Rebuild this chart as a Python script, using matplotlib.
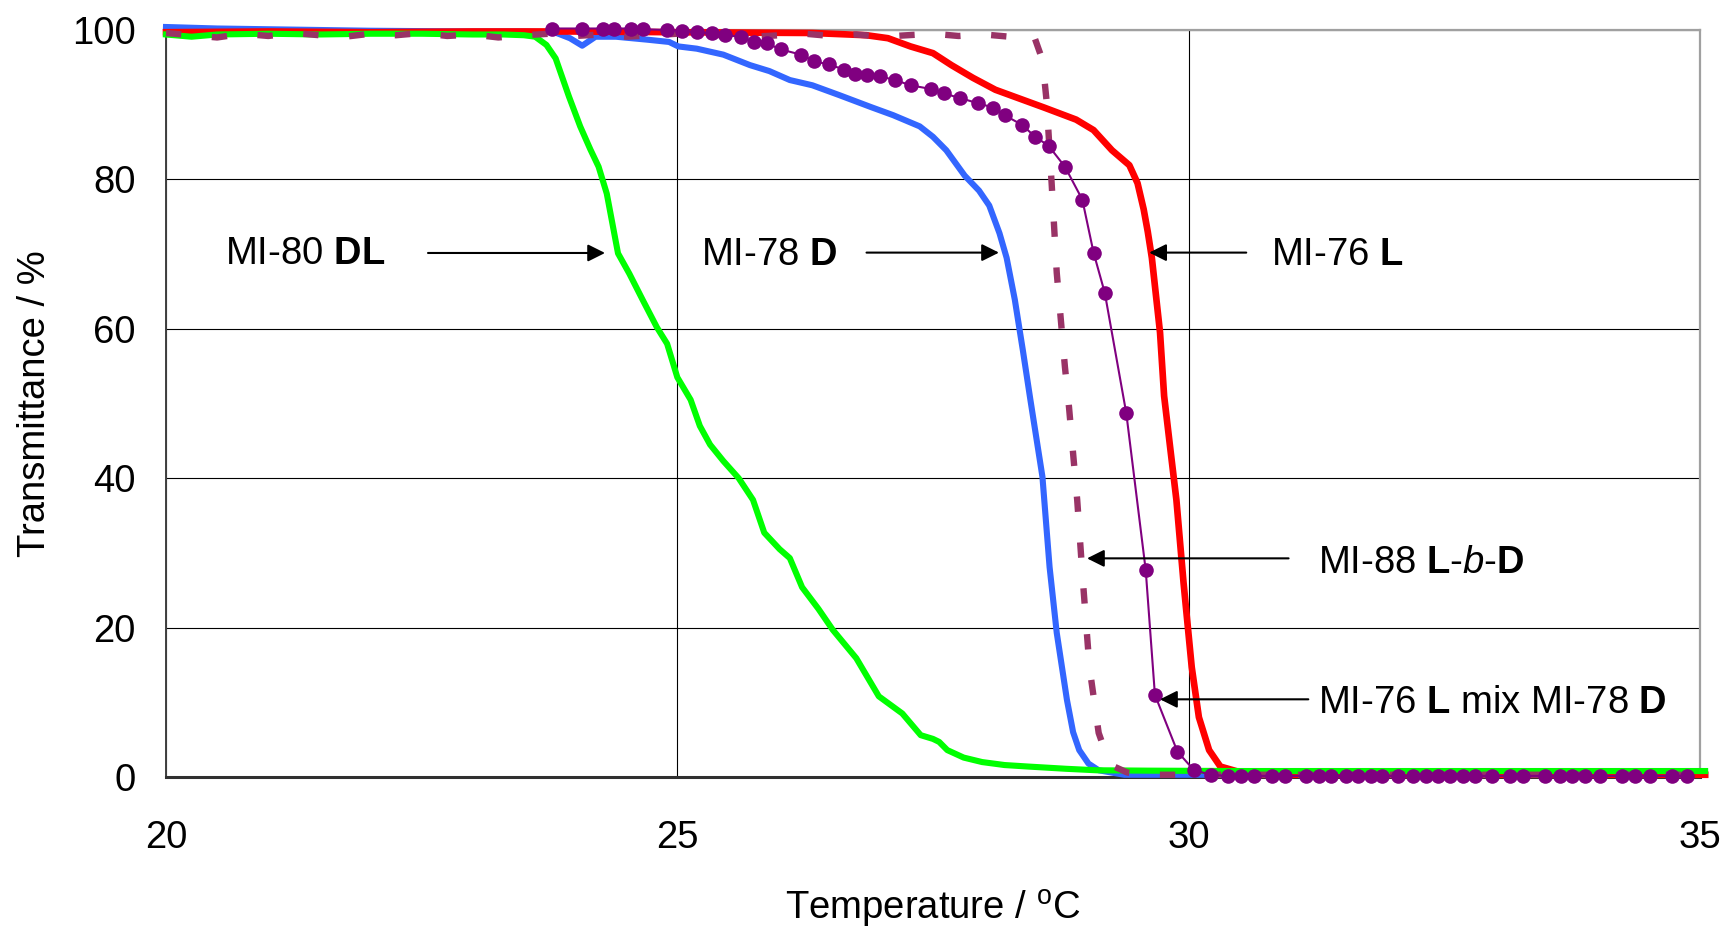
import matplotlib
matplotlib.use("Agg")
import matplotlib.pyplot as plt

plt.rcParams['font.family'] = ['Liberation Sans', 'DejaVu Sans']
plt.rcParams['mathtext.fontset'] = 'custom'
plt.rcParams['mathtext.rm'] = 'Liberation Sans'
plt.rcParams['mathtext.bf'] = 'Liberation Sans:bold'
plt.rcParams['mathtext.it'] = 'Liberation Sans:italic'

# ---- data: temperature (deg C) vs transmittance (%) ----
mi80_T = [20.0, 20.25, 20.5, 21.0, 21.5, 22.0, 22.5, 23.0, 23.3, 23.5, 23.61, 23.72,
          23.81, 23.94, 24.05, 24.15, 24.23, 24.31, 24.42, 24.53, 24.66, 24.8, 24.9,
          25.0, 25.13, 25.22, 25.32, 25.45, 25.6, 25.74, 25.85, 26.0, 26.1, 26.22,
          26.38, 26.52, 26.75, 26.97, 27.2, 27.38, 27.5, 27.56, 27.64, 27.8, 27.98,
          28.2, 28.43, 28.8, 29.1, 29.6, 30.5, 32.0, 33.5, 35.05]
mi80_Y = [99.4, 99.1, 99.4, 99.5, 99.4, 99.5, 99.5, 99.4, 99.4, 99.3, 99.1, 98.0,
          96.2, 91.1, 87.1, 84.0, 81.7, 78.1, 70.1, 67.4, 63.9, 60.2, 58.0,
          53.5, 50.5, 47.0, 44.5, 42.3, 40.0, 37.1, 32.7, 30.5, 29.3, 25.4,
          22.5, 19.7, 15.9, 10.8, 8.5, 5.6, 5.1, 4.7, 3.6, 2.6, 2.0,
          1.6, 1.4, 1.1, 0.9, 0.85, 0.8, 0.8, 0.8, 0.8]

mi78_T = [20.0, 20.5, 21.0, 22.0, 23.0, 23.5, 23.8, 23.95, 24.07, 24.2, 24.4, 24.71,
          24.92, 25.01, 25.19, 25.45, 25.71, 25.9, 26.1, 26.32, 26.58, 26.89, 27.11,
          27.37, 27.5, 27.63, 27.72, 27.81, 27.95, 28.05, 28.15, 28.22, 28.3, 28.38,
          28.45, 28.57, 28.64, 28.71, 28.81, 28.87, 28.93, 29.02, 29.12, 29.37, 30.0, 35.05]
mi78_Y = [100.4, 100.2, 100.1, 99.9, 99.8, 99.8, 99.7, 98.9, 97.9, 99.1, 99.1, 98.7,
          98.4, 97.8, 97.5, 96.7, 95.3, 94.5, 93.3, 92.6, 91.3, 89.7, 88.6,
          87.1, 85.7, 83.9, 82.2, 80.5, 78.5, 76.5, 72.8, 69.5, 63.9, 57.0,
          50.7, 40.2, 28.1, 19.3, 10.3, 6.0, 3.6, 1.8, 0.9, 0.3, 0.3, 0.3]

mi76_T = [20.0, 21.0, 22.0, 23.0, 24.0, 25.0, 26.32, 26.85, 27.06, 27.28, 27.5, 27.68,
          27.89, 28.11, 28.33, 28.59, 28.9, 29.07, 29.25, 29.42, 29.5, 29.56, 29.6,
          29.64, 29.68, 29.72, 29.76, 29.82, 29.88, 29.95, 30.03, 30.1, 30.2, 30.31,
          30.59, 32.0, 35.05]
mi76_Y = [99.7, 99.8, 99.7, 99.8, 99.8, 99.7, 99.6, 99.3, 98.9, 97.8, 96.9, 95.3,
          93.6, 92.0, 90.9, 89.6, 88.0, 86.6, 83.9, 81.9, 79.5, 76.0, 73.0,
          69.5, 64.5, 59.5, 51.0, 44.0, 37.1, 26.0, 14.7, 8.0, 3.6, 1.4,
          0.3, 0.3, 0.3]

mi88_T = [20.0, 20.25, 20.5, 20.75, 21.0, 21.25, 21.5, 21.75, 22.0, 22.25, 22.5, 22.75,
          23.0, 23.25, 23.5, 23.75, 24.0, 24.25, 24.5, 24.75, 25.0, 25.25, 25.5, 25.75,
          26.0, 26.25, 26.5, 26.75, 27.0, 27.25, 27.5, 27.75, 28.0, 28.25, 28.4, 28.49,
          28.57, 28.61, 28.66, 28.71, 28.79, 28.83, 28.91, 28.96, 29.03, 29.12, 29.2,
          29.27, 29.4, 29.61, 32.0, 35.05]
mi88_Y = [99.6, 99.3, 99.0, 99.5, 99.2, 99.6, 99.3, 99.1, 99.5, 99.3, 99.6, 99.2,
          99.4, 99.0, 99.3, 99.5, 99.2, 99.4, 99.1, 99.3, 99.5, 99.2, 99.4, 99.1,
          99.3, 99.5, 99.2, 99.4, 99.1, 99.3, 99.5, 99.2, 99.4, 99.1, 99.3, 99.1,
          96.0, 90.6, 79.5, 67.5, 54.9, 49.5, 37.1, 27.3, 14.7, 5.9, 2.8,
          1.4, 0.6, 0.3, 0.3, 0.3]

mix_T = [23.77, 24.07, 24.27, 24.38, 24.55, 24.66, 24.9, 25.05, 25.19, 25.34, 25.47,
         25.62, 25.75, 25.88, 26.01, 26.21, 26.34, 26.48, 26.63, 26.74, 26.85, 26.98,
         27.13, 27.28, 27.48, 27.61, 27.76, 27.94, 28.09, 28.2, 28.37, 28.5, 28.63,
         28.79, 28.96, 29.07, 29.18, 29.39, 29.58, 29.67, 29.89, 30.05, 30.22,
         30.38, 30.51, 30.64, 30.81, 30.94, 31.15, 31.27, 31.39, 31.54, 31.66, 31.78,
         31.89, 32.05, 32.19, 32.32, 32.44, 32.56, 32.68, 32.8, 32.97, 33.14, 33.27,
         33.48, 33.63, 33.75, 33.88, 34.02, 34.24, 34.36, 34.51, 34.73, 34.87]
mix_Y = [100.2, 100.2, 100.2, 100.2, 100.2, 100.1, 100.0, 99.9, 99.7, 99.55, 99.3,
         99.1, 98.4, 98.2, 97.4, 96.7, 95.8, 95.4, 94.7, 94.1, 94.0, 93.8,
         93.3, 92.6, 92.1, 91.5, 90.9, 90.2, 89.6, 88.6, 87.3, 85.7, 84.5,
         81.7, 77.3, 70.2, 64.8, 48.7, 27.7, 11.0, 3.4, 0.94, 0.27,
         0.15, 0.15, 0.15, 0.15, 0.15, 0.15, 0.15, 0.15, 0.15, 0.15, 0.15,
         0.15, 0.15, 0.15, 0.15, 0.15, 0.15, 0.15, 0.15, 0.15, 0.15, 0.15,
         0.15, 0.15, 0.15, 0.15, 0.15, 0.15, 0.15, 0.15, 0.15, 0.15]

x_ticks = [20, 25, 30, 35]
y_ticks = [0, 20, 40, 60, 80, 100]
series_labels = [r'MI-80 $\mathbf{DL}$', r'MI-78 $\mathbf{D}$', r'MI-76 $\mathbf{L}$',
                 r'MI-88 $\mathbf{L}$-$\mathit{b}$-$\mathbf{D}$',
                 r'MI-76 $\mathbf{L}$ mix MI-78 $\mathbf{D}$']

FS = 27.5
W, H = 1731, 930
fig = plt.figure(figsize=(W / 100, H / 100), dpi=100)
L, R, T, B = 166, 1700, 30, 777
ax = fig.add_axes([L / W, 1 - B / H, (R - L) / W, (B - T) / H])

ax.plot(mi78_T, mi78_Y, color='#3366FF', lw=4.4, clip_on=False, zorder=3,
        solid_joinstyle='round')
ax.plot(mi76_T, mi76_Y, color='#FF0000', lw=4.8, clip_on=False, zorder=3.1,
        solid_joinstyle='round')
ax.plot(mi80_T, mi80_Y, color='#00FF00', lw=4.4, clip_on=False, zorder=3.2,
        solid_joinstyle='round')
ax.plot(mi88_T, mi88_Y, color='#993366', lw=4.6, clip_on=False, zorder=3.3,
        dashes=(2.4, 4.8), dash_capstyle='butt')
ax.plot(mix_T, mix_Y, color='#800080', lw=1.5, marker='o', markersize=10.5,
        markeredgewidth=0, clip_on=False, zorder=3.4)

ax.set_xlim(20, 35)
ax.set_ylim(0, 100)
ax.set_xticks(x_ticks)
ax.set_yticks(y_ticks)
ax.tick_params(axis='both', length=0, labelsize=FS)
ax.tick_params(axis='y', pad=22)
ax.tick_params(axis='x', pad=31)
ax.set_axisbelow(True)
ax.grid(True, color='black', lw=0.8)

for side in ('top', 'right'):
    ax.spines[side].set_color('#A0A0A0')
    ax.spines[side].set_linewidth(1.6)
ax.spines['left'].set_color('#404040')
ax.spines['left'].set_linewidth(1.4)
ax.spines['bottom'].set_color('#303030')
ax.spines['bottom'].set_linewidth(2.2)

ax.set_xlabel(r'Temperature / $^{\mathrm{o}}$C', fontsize=FS)
ax.xaxis.set_label_coords(0.5, (B - 920) / (B - T))
ax.xaxis.label.set_verticalalignment('baseline')
ax.set_ylabel('Transmittance / %', fontsize=FS)
ax.yaxis.set_label_coords((45 - L) / (R - L), 0.5)
ax.yaxis.label.set_verticalalignment('baseline')

# callouts: (label, text x, text baseline y, arrow tail, arrow head)
callouts = [
    (series_labels[0], 20.577, 68.67, (22.562, 70.15), (24.293, 70.15)),
    (series_labels[1], 25.23, 68.5, (26.85, 70.2), (28.145, 70.2)),
    (series_labels[2], 30.807, 68.5, (30.563, 70.2), (29.614, 70.2)),
    (series_labels[3], 31.26, 27.35, (30.977, 29.27), (29.006, 29.27)),
    (series_labels[4], 31.26, 8.61, (31.17, 10.4), (29.72, 10.4)),
]
for text, tx, ty, tail, head in callouts:
    ax.text(tx, ty, text, fontsize=FS, ha='left', va='baseline', zorder=5)
    ax.annotate('', xy=head, xytext=tail, zorder=5,
                arrowprops=dict(arrowstyle='-|>,head_length=0.4,head_width=0.2',
                                color='black', lw=1.5, mutation_scale=26,
                                shrinkA=0, shrinkB=0))

fig.savefig('out.png', dpi=100, facecolor='white')
